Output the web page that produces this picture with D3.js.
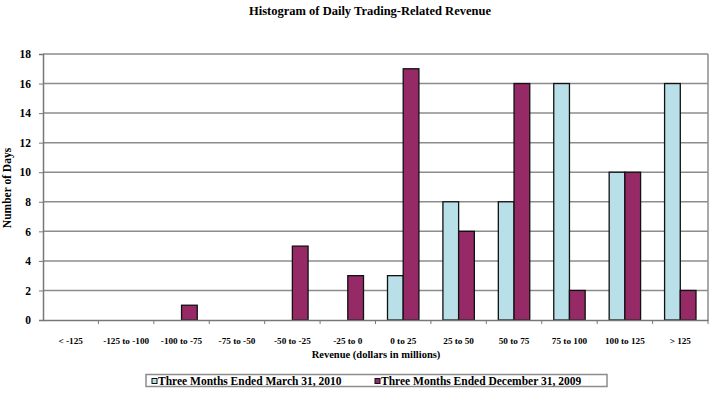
<!DOCTYPE html>
<html>
<head>
<meta charset="utf-8">
<script src="https://cdn.jsdelivr.net/npm/d3@7"></script>
<style>
  body { margin: 0; background: #fff; }
  text { font-family: "Liberation Serif", "Times New Roman", serif; font-weight: bold; fill: #000; }
</style>
</head>
<body>
<div id="chart"></div>
<script>
// histogram values
var categories = ["< -125", "-125 to -100", "-100 to -75", "-75 to -50", "-50 to -25", "-25 to 0",
                  "0 to 25", "25 to 50", "50 to 75", "75 to 100", "100 to 125", "> 125"];
var seriesNames = ["Three Months Ended March 31, 2010", "Three Months Ended December 31, 2009"];
var mar2010 = [0, 0, 0, 0, 0, 0, 3, 8, 8, 16, 10, 16];
var dec2009 = [0, 0, 1, 0, 5, 3, 17, 6, 16, 2, 10, 2];
var yTicks = [0, 2, 4, 6, 8, 10, 12, 14, 16, 18];

var width = 710, height = 393;
var margin = {top: 54, right: 2, bottom: 73, left: 43};
var colors = ["#b9dfe8", "#962a66"];

var svg = d3.select("#chart").append("svg")
    .attr("width", width)
    .attr("height", height);

var x = d3.scaleBand()
    .domain(categories)
    .range([margin.left, width - margin.right])
    .paddingInner(0.433)
    .paddingOuter(0.433 / 2);

var step = x.step();

var xInner = d3.scaleBand()
    .domain([0, 1])
    .range([0, x.bandwidth()]);

var y = d3.scaleLinear()
    .domain([0, 18])
    .range([height - margin.bottom, margin.top]);

// gridlines
svg.append("g")
  .selectAll("line")
  .data(yTicks.filter(function(d) { return d > 0; }))
  .enter().append("line")
    .attr("x1", margin.left)
    .attr("x2", width - margin.right)
    .attr("y1", function(d) { return y(d); })
    .attr("y2", function(d) { return y(d); })
    .attr("stroke", "#8c8c8c")
    .attr("stroke-width", 1.5);

// right border
svg.append("line")
    .attr("x1", width - margin.right).attr("x2", width - margin.right)
    .attr("y1", y(18)).attr("y2", y(0))
    .attr("stroke", "#8c8c8c")
    .attr("stroke-width", 1.5);

// bars
var rows = [];
categories.forEach(function(c, i) {
  [mar2010[i], dec2009[i]].forEach(function(v, s) {
    if (v > 0) rows.push({cat: c, s: s, v: v});
  });
});

svg.append("g")
  .selectAll("rect")
  .data(rows)
  .enter().append("rect")
    .attr("x", function(d) { return x(d.cat) + xInner(d.s); })
    .attr("width", xInner.bandwidth())
    .attr("y", function(d) { return y(d.v); })
    .attr("height", function(d) { return y(0) - y(d.v); })
    .attr("fill", function(d) { return colors[d.s]; })
    .attr("stroke", "#111")
    .attr("stroke-width", 1.3);

// y axis
var yAxis = svg.append("g")
    .attr("transform", "translate(" + margin.left + ",0)")
    .call(d3.axisLeft(y).tickValues(yTicks).tickSize(4).tickPadding(8).tickFormat(d3.format("d")));
yAxis.select(".domain").attr("stroke", "#777").attr("stroke-width", 1.5);
yAxis.selectAll(".tick line").attr("stroke", "#777");
yAxis.selectAll("text").style("font-size", "11.5px").attr("fill", "#000");

// x axis: ticks sit at category boundaries
var xAxis = svg.append("g")
    .attr("transform", "translate(0," + y(0) + ")")
    .call(d3.axisBottom(x).tickSize(0).tickPadding(17));
xAxis.select(".domain").attr("stroke", "#777").attr("stroke-width", 1.5);
xAxis.selectAll("text").style("font-size", "9.2px").attr("fill", "#000");
xAxis.selectAll(".bound")
  .data(d3.range(1, categories.length + 1))
  .enter().append("line")
    .attr("class", "bound")
    .attr("x1", function(i) { return margin.left + i * step; })
    .attr("x2", function(i) { return margin.left + i * step; })
    .attr("y1", 0).attr("y2", 4)
    .attr("stroke", "#777");

// titles
svg.append("text")
    .attr("x", 370).attr("y", 15)
    .attr("text-anchor", "middle")
    .style("font-size", "12.5px")
    .text("Histogram of Daily Trading-Related Revenue");

svg.append("text")
    .attr("x", 376).attr("y", 358)
    .attr("text-anchor", "middle")
    .style("font-size", "10.5px")
    .text("Revenue (dollars in millions)");

svg.append("text")
    .attr("transform", "translate(11,188) rotate(-90)")
    .attr("text-anchor", "middle")
    .style("font-size", "11.5px")
    .text("Number of Days");

// legend
var legend = svg.append("g");
legend.append("rect")
    .attr("x", 146).attr("y", 374.5)
    .attr("width", 461).attr("height", 12)
    .attr("fill", "#fff")
    .attr("stroke", "#8c8c8c")
    .attr("stroke-width", 1.5);

var legendX = [152, 375];
var items = legend.selectAll(".item")
  .data(seriesNames)
  .enter().append("g")
    .attr("class", "item")
    .attr("transform", function(d, i) { return "translate(" + legendX[i] + ",376)"; });
items.append("rect")
    .attr("x", 0).attr("y", 2.5)
    .attr("width", 5).attr("height", 5)
    .attr("fill", function(d, i) { return colors[i]; })
    .attr("stroke", "#111");
items.append("text")
    .attr("x", 6).attr("y", 9)
    .style("font-size", "11.5px")
    .text(function(d) { return d; });
</script>
</body>
</html>
